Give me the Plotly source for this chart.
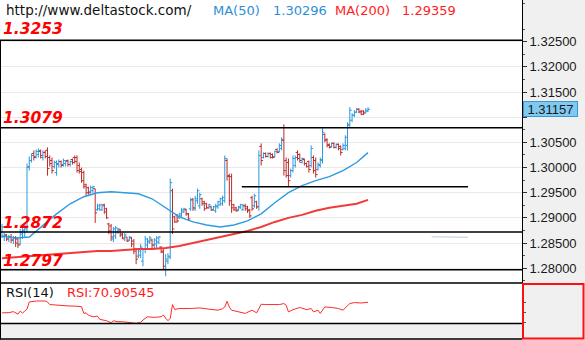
import plotly.graph_objects as go

W, H = 585, 340

# ---- daily OHLC bars -------------------------------------------------------
opens = [
    1.2864, 1.2862, 1.2866, 1.2858, 1.2862, 1.2856, 1.2860, 1.2858, 1.2848, 1.2868,
    1.2874, 1.2878, 1.3002, 1.3014, 1.3028, 1.3022, 1.3026, 1.3032, 1.3020, 1.3030,
    1.3034, 1.3020, 1.3014, 1.3002, 1.2990, 1.3006, 1.3012, 1.3006, 1.3008, 1.3014,
    1.3006, 1.3016, 1.3020, 1.3020, 1.3004, 1.2996, 1.2990, 1.2966, 1.2960, 1.2952,
    1.2954, 1.2958, 1.2916, 1.2918, 1.2916, 1.2926, 1.2918, 1.2888, 1.2884, 1.2858,
    1.2864, 1.2872, 1.2876, 1.2868, 1.2858, 1.2862, 1.2856, 1.2860, 1.2854, 1.2838,
    1.2824, 1.2826, 1.2814, 1.2838, 1.2846, 1.2852, 1.2856, 1.2846, 1.2848, 1.2852,
    1.2842, 1.2834, 1.2798, 1.2814, 1.2822, 1.2954, 1.2902, 1.2906, 1.2900, 1.2904,
    1.2912, 1.2916, 1.2908, 1.2918, 1.2936, 1.2918, 1.2934, 1.2924, 1.2938, 1.2932,
    1.2928, 1.2920, 1.2922, 1.2916, 1.2914, 1.2922, 1.2926, 1.2928, 1.2934, 1.3014,
    1.2984, 1.2982, 1.2926, 1.2920, 1.2916, 1.2920, 1.2916, 1.2924, 1.2922, 1.2916,
    1.2940, 1.2924, 1.2932, 1.2922, 1.3042, 1.3020, 1.3028, 1.3022, 1.3028, 1.3026,
    1.3022, 1.3036, 1.3032, 1.3038, 1.3054, 1.3014, 1.3010, 1.2984, 1.2994, 1.3004,
    1.3030, 1.3026, 1.3010, 1.3016, 1.3008, 1.3012, 1.3004, 1.3020, 1.3014, 1.2996,
    1.3004, 1.3014, 1.3066, 1.3056, 1.3046, 1.3042, 1.3048, 1.3040, 1.3046, 1.3042,
    1.3036, 1.3038, 1.3044, 1.3086, 1.3094, 1.3104, 1.3110, 1.3116, 1.3112, 1.3112,
    1.3110, 1.3112,
]
highs = [
    1.2888, 1.2870, 1.2868, 1.2866, 1.2868, 1.2864, 1.2864, 1.2862, 1.2878, 1.2880,
    1.2890, 1.3008, 1.3022, 1.3028, 1.3034, 1.3036, 1.3038, 1.3036, 1.3034, 1.3034,
    1.3040, 1.3024, 1.3020, 1.3014, 1.3014, 1.3016, 1.3014, 1.3018, 1.3014, 1.3016,
    1.3014, 1.3018, 1.3024, 1.3024, 1.3010, 1.3000, 1.2994, 1.2968, 1.2962, 1.2964,
    1.2964, 1.2958, 1.2928, 1.2928, 1.2928, 1.2928, 1.2920, 1.2890, 1.2888, 1.2882,
    1.2884, 1.2880, 1.2878, 1.2870, 1.2870, 1.2862, 1.2864, 1.2862, 1.2858, 1.2840,
    1.2840, 1.2848, 1.2840, 1.2864, 1.2860, 1.2864, 1.2858, 1.2860, 1.2864, 1.2864,
    1.2844, 1.2838, 1.2828, 1.2830, 1.2978, 1.2958, 1.2904, 1.2908, 1.2910, 1.2920,
    1.2920, 1.2918, 1.2910, 1.2940, 1.2940, 1.2944, 1.2958, 1.2950, 1.2940, 1.2934,
    1.2930, 1.2928, 1.2924, 1.2924, 1.2928, 1.2934, 1.2940, 1.2944, 1.3024, 1.3018,
    1.2988, 1.2988, 1.2928, 1.2922, 1.2924, 1.2928, 1.2928, 1.2928, 1.2924, 1.2918,
    1.2944, 1.2948, 1.2934, 1.3034, 1.3048, 1.3030, 1.3030, 1.3030, 1.3030, 1.3028,
    1.3034, 1.3038, 1.3048, 1.3060, 1.3086, 1.3020, 1.3018, 1.2998, 1.3024, 1.3024,
    1.3034, 1.3028, 1.3020, 1.3018, 1.3010, 1.3014, 1.3044, 1.3024, 1.3020, 1.3010,
    1.3020, 1.3078, 1.3068, 1.3058, 1.3048, 1.3050, 1.3050, 1.3048, 1.3048, 1.3044,
    1.3048, 1.3064, 1.3090, 1.3120, 1.3108, 1.3114, 1.3118, 1.3118, 1.3114, 1.3114,
    1.3118, 1.3120,
]
lows = [
    1.2860, 1.2854, 1.2854, 1.2852, 1.2850, 1.2848, 1.2842, 1.2840, 1.2846, 1.2858,
    1.2862, 1.2872, 1.2994, 1.3010, 1.3014, 1.3018, 1.3020, 1.3018, 1.3014, 1.3018,
    1.2984, 1.3002, 1.2988, 1.2998, 1.2984, 1.3000, 1.3000, 1.3002, 1.3002, 1.3002,
    1.3002, 1.3006, 1.3008, 1.2990, 1.2988, 1.2970, 1.2958, 1.2944, 1.2946, 1.2948,
    1.2950, 1.2890, 1.2914, 1.2914, 1.2914, 1.2908, 1.2898, 1.2868, 1.2854, 1.2852,
    1.2858, 1.2868, 1.2862, 1.2858, 1.2854, 1.2852, 1.2854, 1.2842, 1.2828, 1.2808,
    1.2820, 1.2820, 1.2804, 1.2830, 1.2840, 1.2848, 1.2840, 1.2840, 1.2840, 1.2848,
    1.2830, 1.2796, 1.2784, 1.2808, 1.2818, 1.2868, 1.2890, 1.2890, 1.2898, 1.2900,
    1.2910, 1.2904, 1.2894, 1.2914, 1.2914, 1.2914, 1.2928, 1.2918, 1.2924, 1.2914,
    1.2918, 1.2918, 1.2914, 1.2914, 1.2910, 1.2918, 1.2924, 1.2924, 1.2930, 1.2974,
    1.2924, 1.2910, 1.2914, 1.2912, 1.2914, 1.2918, 1.2914, 1.2914, 1.2910, 1.2900,
    1.2914, 1.2920, 1.2918, 1.2914, 1.3004, 1.3018, 1.3020, 1.3020, 1.3018, 1.3018,
    1.3020, 1.3028, 1.3030, 1.3034, 1.2984, 1.2980, 1.2962, 1.2980, 1.2990, 1.3000,
    1.3014, 1.3010, 1.3008, 1.3004, 1.3000, 1.2990, 1.3000, 1.2988, 1.2980, 1.2994,
    1.3000, 1.3008, 1.3050, 1.3040, 1.3038, 1.3040, 1.3038, 1.3038, 1.3034, 1.3024,
    1.3034, 1.3034, 1.3034, 1.3080, 1.3090, 1.3100, 1.3108, 1.3108, 1.3104, 1.3104,
    1.3108, 1.3110,
]
closes = [
    1.2882, 1.2866, 1.2858, 1.2862, 1.2856, 1.2860, 1.2850, 1.2846, 1.2872, 1.2876,
    1.2882, 1.3000, 1.3014, 1.3024, 1.3020, 1.3032, 1.3034, 1.3024, 1.3030, 1.3022,
    1.2998, 1.3008, 1.2994, 1.3010, 1.3008, 1.3012, 1.3004, 1.3014, 1.3012, 1.3006,
    1.3012, 1.3010, 1.3012, 1.2994, 1.2992, 1.2974, 1.2962, 1.2950, 1.2950, 1.2960,
    1.2962, 1.2910, 1.2924, 1.2926, 1.2924, 1.2912, 1.2900, 1.2874, 1.2862, 1.2878,
    1.2880, 1.2878, 1.2866, 1.2860, 1.2866, 1.2854, 1.2862, 1.2848, 1.2834, 1.2818,
    1.2834, 1.2842, 1.2838, 1.2858, 1.2854, 1.2860, 1.2846, 1.2856, 1.2860, 1.2862,
    1.2832, 1.2804, 1.2818, 1.2824, 1.2970, 1.2878, 1.2892, 1.2894, 1.2908, 1.2916,
    1.2918, 1.2908, 1.2898, 1.2936, 1.2920, 1.2938, 1.2954, 1.2946, 1.2928, 1.2918,
    1.2920, 1.2926, 1.2916, 1.2922, 1.2924, 1.2932, 1.2938, 1.2940, 1.3018, 1.2982,
    1.2934, 1.2920, 1.2916, 1.2914, 1.2922, 1.2926, 1.2924, 1.2918, 1.2914, 1.2904,
    1.2918, 1.2944, 1.2922, 1.3024, 1.3014, 1.3028, 1.3022, 1.3028, 1.3020, 1.3020,
    1.3032, 1.3030, 1.3044, 1.3056, 1.2994, 1.2984, 1.2974, 1.2994, 1.3018, 1.3020,
    1.3018, 1.3014, 1.3018, 1.3008, 1.3002, 1.2996, 1.3038, 1.2994, 1.2986, 1.3006,
    1.3016, 1.3070, 1.3054, 1.3044, 1.3040, 1.3048, 1.3040, 1.3046, 1.3038, 1.3030,
    1.3044, 1.3060, 1.3084, 1.3114, 1.3104, 1.3110, 1.3116, 1.3110, 1.3106, 1.3108,
    1.3114, 1.31157,
]

# ---- moving averages (sampled every few bars) ------------------------------
ma_idx = [0, 6, 12, 18, 24, 30, 36, 42, 48, 54, 60, 66, 72, 78, 84, 90, 96, 102,
          108, 114, 120, 126, 132, 138, 144, 150, 156, 161]
ma50 = [1.2864, 1.2860, 1.2862, 1.2886, 1.2908, 1.2928, 1.2942, 1.2950, 1.2952,
        1.2950, 1.2948, 1.2938, 1.2920, 1.2902, 1.2892, 1.2886, 1.2882, 1.2886,
        1.2894, 1.2908, 1.2930, 1.2950, 1.2964, 1.2974, 1.2982, 1.2994, 1.3010,
        1.30296]
ma200 = [1.2820, 1.2822, 1.2824, 1.2826, 1.2828, 1.2830, 1.2832, 1.2834, 1.2834,
         1.2836, 1.2838, 1.2838, 1.2840, 1.2844, 1.2850, 1.2856, 1.2862, 1.2868,
         1.2874, 1.2882, 1.2892, 1.2900, 1.2906, 1.2914, 1.2920, 1.2924, 1.2928,
         1.29359]

# ---- RSI(14) ---------------------------------------------------------------
rsi_idx = [0, 3, 5, 7, 8, 9, 10, 11, 12, 15, 19, 20, 21, 24, 29, 33, 35, 36, 37, 38,
           40, 42, 43, 46, 48, 49, 51, 53, 56, 58, 59, 61, 62, 64, 67, 70, 71, 72, 73, 74,
           75, 76, 78, 83, 87, 91, 95, 97, 98, 99, 100, 101, 104, 107, 110, 112, 114, 116,
           122, 124, 125, 126, 128, 131, 134, 136, 137, 139, 140, 141, 142, 145, 148, 150,
           153, 155, 158, 161]
rsi = [50.0, 50.4, 52.4, 47.5, 53.4, 49.5, 53.4, 57.3, 71.5, 73.4,
       73.4, 71.5, 66.4, 65.1, 63.7, 63.1, 62.1, 48.9, 50.0, 45.5,
       42.2, 43.6, 37.2, 34.4, 30.5, 34.4, 32.5, 32.5, 31.3, 30.5,
       29.5, 31.3, 35.8, 42.2, 41.1, 42.2, 45.5, 39.7, 34.4, 39.1,
       66.4, 56.7, 58.6, 58.6, 59.8, 57.3, 55.3, 58.2, 61.7, 72.9,
       61.7, 55.3, 52.0, 48.9, 55.3, 50.0, 67.0, 66.4, 66.4, 68.4,
       65.1, 52.0, 56.3, 60.6, 56.3, 58.6, 52.0, 55.3, 48.9, 55.3,
       61.7, 60.6, 58.6, 55.3, 68.4, 70.3, 69.5, 70.90545]

# ---- horizontal levels -----------------------------------------------------
levels = [1.3253, 1.3079, 1.2872, 1.2797]
support_level = 1.2962
support_span = [105.5, 205.0]

price_ticks = [1.280, 1.285, 1.290, 1.295, 1.300, 1.305, 1.310, 1.315, 1.320, 1.325]
minor_ticks = [1.2775, 1.2825, 1.2875, 1.2925, 1.2975, 1.3025, 1.3075, 1.3125,
               1.3175, 1.3225, 1.3275, 1.3325]

# ---- layout geometry (pixels) ----------------------------------------------
PLOT_R = 522          # right edge of the chart area
PRICE_BOTTOM = 282.5
RSI_TOP, RSI_BOTTOM = 283.5, 323.5
BAR_STEP = 366 / 161  # pixels per bar
FIRST_BAR_PX = 2

UP_COLOR = "#2b97dd"
DOWN_COLOR = "#bd2a2a"
BLUE_TXT = "#2a8fd6"
RED_TXT = "#ff1c1c"


def fx(px):
    return px / W


def fy(py):
    return 1 - py / H


x_lo = -FIRST_BAR_PX / BAR_STEP
x_hi = (PLOT_R - FIRST_BAR_PX) / BAR_STEP

# price axis: 1.325 sits at 41.7 px, 0.005 per 25.17 px
PX_PER_UNIT = 25.17 / 0.005
y_top_price = 1.325 + 41.7 / PX_PER_UNIT
y_bot_price = 1.325 - (PRICE_BOTTOM - 41.7) / PX_PER_UNIT

# RSI axis range
rsi_lo, rsi_hi = 29.0, 107.95

# ---- OHLC bars built as line segments --------------------------------------
TICK = 0.85


def bar_segments(rising):
    xs, ys = [], []
    for i, (o, h, l, c) in enumerate(zip(opens, highs, lows, closes)):
        if (c >= o) != rising:
            continue
        xs += [i, i, None, i - TICK, i, None, i, i + TICK, None]
        ys += [l, h, None, o, o, None, c, c, None]
    return xs, ys


fig = go.Figure()

for rising, col in ((True, UP_COLOR), (False, DOWN_COLOR)):
    bx, by = bar_segments(rising)
    fig.add_trace(go.Scatter(x=bx, y=by, mode="lines",
                             line=dict(color=col, width=1),
                             hoverinfo="skip", xaxis="x", yaxis="y"))

fig.add_trace(go.Scatter(x=ma_idx, y=ma200, mode="lines",
                         line=dict(color="#f23a3a", width=2),
                         hoverinfo="skip", xaxis="x", yaxis="y"))
fig.add_trace(go.Scatter(x=ma_idx, y=ma50, mode="lines",
                         line=dict(color="#2d9be0", width=1.4),
                         hoverinfo="skip", xaxis="x", yaxis="y"))

fig.add_trace(go.Scatter(x=rsi_idx, y=rsi, mode="lines",
                         line=dict(color="#ff2a2a", width=1),
                         hoverinfo="skip", xaxis="x2", yaxis="y2"))

shapes = []
for lv in levels:
    shapes.append(dict(type="line", xref="paper", yref="y",
                       x0=0, x1=fx(PLOT_R), y0=lv, y1=lv,
                       line=dict(color="black", width=1.5)))
shapes.append(dict(type="line", xref="x", yref="y",
                   x0=support_span[0], x1=support_span[1],
                   y0=support_level, y1=support_level,
                   line=dict(color="black", width=1.5)))
# faint smudge below the 1.2872 level
shapes.append(dict(type="line", xref="x", yref="y", x0=189, x1=205,
                   y0=1.28625, y1=1.28615,
                   line=dict(color="rgba(110,140,185,0.45)", width=1)))
# panel frame
shapes += [
    dict(type="line", xref="paper", yref="paper", x0=0, x1=fx(PLOT_R),
         y0=fy(283), y1=fy(283), line=dict(color="black", width=1.5)),
    dict(type="line", xref="paper", yref="paper", x0=0, x1=fx(PLOT_R),
         y0=fy(RSI_BOTTOM), y1=fy(RSI_BOTTOM), line=dict(color="black", width=1.5)),
    dict(type="line", xref="paper", yref="paper", x0=0, x1=fx(PLOT_R),
         y0=fy(339), y1=fy(339), line=dict(color="black", width=1.5)),
    dict(type="line", xref="paper", yref="paper", x0=fx(0.5), x1=fx(0.5),
         y0=fy(40), y1=fy(339.5), line=dict(color="black", width=1)),
    dict(type="rect", xref="paper", yref="paper", x0=fx(523), x1=fx(583.5),
         y0=fy(338.5), y1=fy(284), line=dict(color="#ff1010", width=2),
         fillcolor="rgba(0,0,0,0)"),
]

ann = []


def label(px, py, text, color, size=13, family="DejaVu Sans"):
    ann.append(dict(x=fx(px), y=fy(py), xref="paper", yref="paper",
                    xanchor="left", yanchor="middle", showarrow=False,
                    text=text, font=dict(family=family, size=size, color=color)))


label(4, 10, "http://www.deltastock.com/", "#111111", size=13.5)
label(211, 10, "MA(50)", BLUE_TXT)
label(271, 10, f"{ma50[-1]:.5f}", BLUE_TXT)
label(333, 10, "MA(200)", RED_TXT)
label(400, 10, f"{ma200[-1]:.5f}", RED_TXT)

for lv, py in zip(levels, (29, 117.5, 222.5, 261)):
    label(1, py, f"<b><i>{lv:.4f}</i></b>", "#ff0000", size=15.5)

label(4, 292.5, "RSI(14)", "#111111")
label(65, 292.5, f"RSI:{rsi[-1]:.5f}", RED_TXT)

# last price marker on the price scale
ann.append(dict(x=fx(523), y=last_price if False else closes[-1], xref="paper", yref="y",
                xanchor="left", yanchor="middle", showarrow=False,
                text=f"{closes[-1]:.5f}", width=53, height=14,
                bgcolor="#80c9f1", bordercolor="#3b97d3", borderwidth=1, borderpad=0,
                font=dict(family="Liberation Sans", size=13, color="#1a1a1a")))

fig.update_layout(
    width=W, height=H,
    margin=dict(l=0, r=0, t=0, b=0),
    paper_bgcolor="#f0f0f0",
    plot_bgcolor="white",
    showlegend=False,
    shapes=shapes,
    annotations=ann,
    xaxis=dict(domain=[0, fx(PLOT_R)], range=[x_lo, x_hi], anchor="y",
               showgrid=False, zeroline=False, showticklabels=False, ticks=""),
    yaxis=dict(domain=[fy(PRICE_BOTTOM), 1], range=[y_bot_price, y_top_price],
               anchor="x", side="right",
               tickvals=price_ticks,
               ticktext=["" if abs(v - 1.31) < 1e-9 else f"{v:.5f}" for v in price_ticks],
               ticks="outside", ticklen=4, tickcolor="#333333",
               tickfont=dict(family="Liberation Sans", size=13, color="#1a1a1a"),
               showgrid=True, gridcolor="#e9e9e9", gridwidth=1, zeroline=False,
               showline=True, linecolor="black", linewidth=1,
               minor=dict(tickvals=minor_ticks, ticks="outside", ticklen=2,
                          tickcolor="#555555", showgrid=False)),
    xaxis2=dict(domain=[0, fx(PLOT_R)], range=[x_lo, x_hi], anchor="y2",
                showgrid=False, zeroline=False, showticklabels=False, ticks=""),
    yaxis2=dict(domain=[fy(RSI_BOTTOM), fy(RSI_TOP)], range=[rsi_lo, rsi_hi],
                anchor="x2", side="right", tickvals=[30, 50, 70],
                ticks="outside", ticklen=3, tickcolor="#555555",
                showticklabels=False, showgrid=False, zeroline=False,
                showline=True, linecolor="black", linewidth=1),
)

fig.write_html("out.html")
